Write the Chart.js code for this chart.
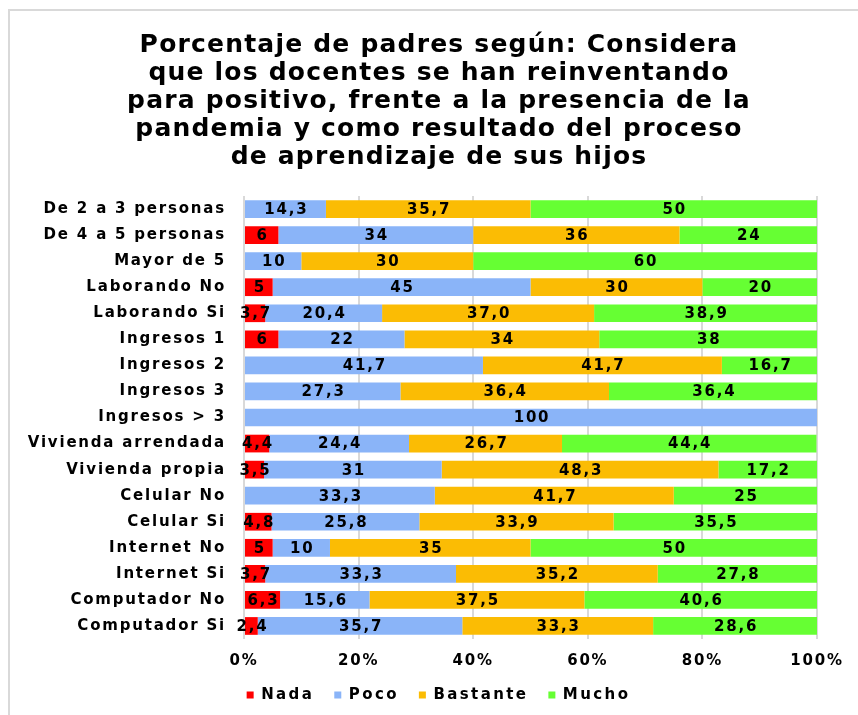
<!DOCTYPE html>
<html>
<head>
<meta charset="utf-8">
<title>Porcentaje de padres</title>
<script src="https://cdn.jsdelivr.net/npm/chart.js@4/dist/chart.umd.min.js"></script>
<style>
  html, body { margin: 0; padding: 0; background: #ffffff; }
  #wrap { width: 858px; height: 715px; position: relative; }
</style>
</head>
<body>
<div id="wrap"><canvas id="c" width="858" height="715"></canvas></div>
<script>
// Categories (top to bottom)
const categories = [
  'De 2 a 3 personas', 'De 4 a 5 personas', 'Mayor de 5',
  'Laborando No', 'Laborando Si',
  'Ingresos 1', 'Ingresos 2', 'Ingresos 3', 'Ingresos > 3',
  'Vivienda arrendada', 'Vivienda propia',
  'Celular No', 'Celular Si',
  'Internet No', 'Internet Si',
  'Computador No', 'Computador Si'
];

// Percentages per answer
const nada     = [0,    6,  0,  5,  3.7,  6,  0,    0,    0,   4.4,  3.5,  0,    4.8,  5,  3.7,  6.3,  2.4];
const poco     = [14.3, 34, 10, 45, 20.4, 22, 41.7, 27.3, 100, 24.4, 31,   33.3, 25.8, 10, 33.3, 15.6, 35.7];
const bastante = [35.7, 36, 30, 30, 37.0, 34, 41.7, 36.4, 0,   26.7, 48.3, 41.7, 33.9, 35, 35.2, 37.5, 33.3];
const mucho    = [50,   24, 60, 20, 38.9, 38, 16.7, 36.4, 0,   44.4, 17.2, 25,   35.5, 50, 27.8, 40.6, 28.6];

const seriesNames = ['Nada', 'Poco', 'Bastante', 'Mucho'];
const seriesColors = ['#FF0000', '#8AB4F8', '#FBBC04', '#66FF33'];
const xTicks = [0, 20, 40, 60, 80, 100];

// Rows whose labels are printed with one decimal throughout
const oneDecimalRows = ['Laborando Si'];

const titleLines = [
  'Porcentaje de padres según: Considera',
  'que los docentes se han reinventando',
  'para positivo, frente a la presencia de la',
  'pandemia y como resultado del proceso',
  'de aprendizaje de sus hijos'
];

const FONT = '"DejaVu Sans", "Liberation Sans", Arial, sans-serif';
const SPACING = '1.8px';

function fmt(v, row) {
  const s = oneDecimalRows.includes(categories[row]) ? v.toFixed(1) : String(v);
  return s.replace('.', ',');
}

// Wraps a layout box so that it is measured and drawn with its own
// letter spacing and horizontal offset.
function tuneBox(chart, box, spacing, dx) {
  if (!box || box._tuned) return;
  const ctx = chart.ctx;
  const origFit = box.fit;
  const origDraw = box.draw;
  box.fit = function (...args) {
    const prev = ctx.letterSpacing;
    ctx.letterSpacing = spacing;
    const r = origFit.apply(this, args);
    ctx.letterSpacing = prev;
    return r;
  };
  box.draw = function (...args) {
    ctx.save();
    ctx.letterSpacing = spacing;
    ctx.translate(dx, 0);
    origDraw.apply(this, args);
    ctx.restore();
  };
  box._tuned = true;
}

// Light frame, background and letter spacing for all canvas text
const frame = {
  id: 'frame',
  afterInit(chart) {
    tuneBox(chart, chart.titleBlock, '1.2px', 20.5);
    tuneBox(chart, chart.legend, '2.4px', 20);
  },
  beforeUpdate(chart) { chart.ctx.letterSpacing = SPACING; },
  beforeDraw(chart) {
    const ctx = chart.ctx;
    ctx.letterSpacing = SPACING;
    ctx.save();
    ctx.fillStyle = '#ffffff';
    ctx.fillRect(0, 0, chart.width, chart.height);
    ctx.strokeStyle = '#D9D9D9';
    ctx.lineWidth = 2;
    ctx.beginPath();
    ctx.moveTo(9, chart.height);
    ctx.lineTo(9, 10);
    ctx.lineTo(chart.width, 10);
    ctx.stroke();
    ctx.restore();
  }
};

// Value labels centred inside each bar segment
const segmentLabels = {
  id: 'segmentLabels',
  afterDatasetsDraw(chart) {
    const ctx = chart.ctx;
    ctx.save();
    ctx.font = 'bold 15px ' + FONT;
    ctx.letterSpacing = SPACING;
    ctx.fillStyle = '#000000';
    ctx.textAlign = 'center';
    ctx.textBaseline = 'middle';
    chart.data.datasets.forEach((ds, di) => {
      const meta = chart.getDatasetMeta(di);
      meta.data.forEach((bar, i) => {
        const v = ds.data[i];
        if (!v) return;
        const p = bar.getProps(['x', 'y', 'base'], true);
        ctx.fillText(fmt(v, i), (p.x + p.base) / 2 + 1, p.y + 1);
      });
    });
    ctx.restore();
  }
};

const seriesValues = [nada, poco, bastante, mucho];

new Chart(document.getElementById('c'), {
  type: 'bar',
  data: {
    labels: categories,
    datasets: seriesNames.map((name, k) => ({
      label: name,
      data: seriesValues[k],
      backgroundColor: seriesColors[k],
      borderWidth: 0,
      barPercentage: 0.68,
      categoryPercentage: 1
    }))
  },
  options: {
    indexAxis: 'y',
    responsive: false,
    devicePixelRatio: 1,
    animation: false,
    layout: { padding: { top: 10, left: 20, right: 41, bottom: 2.5 } },
    scales: {
      x: {
        stacked: true,
        min: 0,
        max: 100,
        afterBuildTicks(scale) { scale.ticks = xTicks.map(v => ({ value: v })); },
        afterFit(scale) { scale.height = 28.5; },
        grid: { color: '#D9D9D9', lineWidth: 2, drawTicks: false },
        border: { display: false },
        ticks: {
          padding: 13,
          color: '#000000',
          font: { family: FONT, size: 15, weight: 'bold' },
          callback: v => v + '%'
        }
      },
      y: {
        stacked: true,
        afterFit(scale) { scale.width = 224; },
        grid: { display: false, drawTicks: false },
        border: { display: false },
        ticks: {
          padding: 18,
          color: '#000000',
          autoSkip: false,
          font: { family: FONT, size: 15, weight: 'bold' }
        }
      }
    },
    plugins: {
      title: {
        display: true,
        text: titleLines,
        color: '#000000',
        font: { family: FONT, size: 25, weight: 'bold', lineHeight: '28px' },
        padding: { top: 21, bottom: 25 }
      },
      legend: {
        position: 'bottom',
        labels: {
          boxWidth: 7,
          boxHeight: 7,
          padding: 20,
          color: '#000000',
          font: { family: FONT, size: 15, weight: 'bold' }
        }
      },
      tooltip: { enabled: false }
    }
  },
  plugins: [frame, segmentLabels]
});
</script>
</body>
</html>
